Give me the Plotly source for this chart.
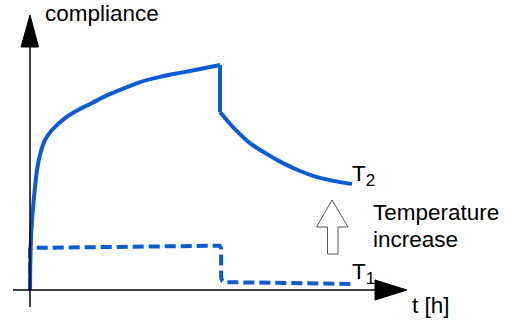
import plotly.graph_objects as go

# ---- data (t in h, compliance in arbitrary units) ----
t_load = [0.0, 0.018, 0.053, 0.132, 0.184, 0.263, 0.395, 0.579, 0.921, 1.263,
          1.632, 2.053, 2.5, 2.895, 3.421, 3.947, 4.474, 5.0]
c_load_T2 = [0.0, 1.91, 3.11, 4.58, 5.33, 6.0, 6.67, 7.11, 7.64, 8.0,
             8.31, 8.67, 8.98, 9.24, 9.47, 9.65, 9.82, 10.0]
t_drop = [5.0, 5.0]
c_drop_T2 = [10.0, 7.91]
t_rec = [5.0, 5.342, 5.789, 6.237, 6.658, 7.105, 7.553, 8.026, 8.474]
c_rec_T2 = [7.91, 7.24, 6.53, 6.04, 5.64, 5.29, 5.02, 4.84, 4.71]

t_T1 = [0.0, 0.0, 0.05, 2.5, 4.9, 4.99, 5.03, 5.03, 5.06, 5.15, 8.47]
c_T1 = [0.0, 1.82, 1.87, 1.93, 2.0, 1.97, 1.85, 0.55, 0.4, 0.35, 0.27]

labels = {"y": "compliance", "x": "t [h]",
          "T2": "T<sub><span style='font-size:17px'>2</span></sub>",
          "T1": "T<sub><span style='font-size:17px'>1</span></sub>",
          "arrow1": "Temperature", "arrow2": "increase"}

# ---- pixel mapping helpers (figure is 511x322, plot area = whole figure) ----
W, H = 511, 322
X0, Y0, KX, KY = 30.0, 290.0, 38.0, 22.5
def tx(px):
    return (px - X0) / KX
def cy(py):
    return (Y0 - py) / KY

blue = "#0a5cd6"
font = "Liberation Sans, Arial, sans-serif"

fig = go.Figure()
fig.add_trace(go.Scatter(x=t_load, y=c_load_T2, mode="lines", line_shape="spline",
                         line=dict(color=blue, width=4, smoothing=0.8), hoverinfo="skip"))
fig.add_trace(go.Scatter(x=t_drop, y=c_drop_T2, mode="lines",
                         line=dict(color=blue, width=4), hoverinfo="skip"))
fig.add_trace(go.Scatter(x=t_rec, y=c_rec_T2, mode="lines", line_shape="spline",
                         line=dict(color=blue, width=4, smoothing=0.8), hoverinfo="skip"))
fig.add_trace(go.Scatter(x=t_T1, y=c_T1, mode="lines",
                         line=dict(color=blue, width=4, dash="11px,5px"), hoverinfo="skip"))

shapes = []
# y axis line + arrow head
shapes.append(dict(type="line", xref="x", yref="y", x0=0, x1=0, y0=cy(307), y1=cy(47),
                   line=dict(color="black", width=1.5)))
shapes.append(dict(type="path", xref="x", yref="y",
                   path=f"M {tx(21)},{cy(47)} L {tx(38.5)},{cy(47)} L {tx(30)},{cy(15)} Z",
                   fillcolor="black", line=dict(color="black", width=1)))
# x axis line + arrow head
shapes.append(dict(type="line", xref="x", yref="y", x0=tx(13), x1=tx(376), y0=0, y1=0,
                   line=dict(color="black", width=1.5)))
shapes.append(dict(type="path", xref="x", yref="y",
                   path=f"M {tx(375)},{cy(280)} L {tx(375)},{cy(300)} L {tx(407)},{cy(290)} Z",
                   fillcolor="black", line=dict(color="black", width=1)))
# hollow arrow
pts = [(332, 200), (348, 227), (338, 227), (338, 254), (327.5, 254), (327.5, 227), (316.5, 227)]
path = "M " + " L ".join(f"{tx(a)},{cy(b)}" for a, b in pts) + " Z"
shapes.append(dict(type="path", xref="x", yref="y", path=path, fillcolor="white",
                   line=dict(color="#555555", width=1)))

def ann(text, px, py, xanchor="left", yanchor="middle", size=22.5):
    return dict(text=text, x=tx(px), y=cy(py), xref="x", yref="y", showarrow=False,
                xanchor=xanchor, yanchor=yanchor, font=dict(family=font, size=size, color="black"))

annotations = [
    ann(labels["y"], 43, 13),
    ann(labels["x"], 410, 305),
    ann(labels["T2"], 350, 175),
    ann(labels["T1"], 350, 273),
    ann(labels["arrow1"], 371, 212),
    ann(labels["arrow2"], 371, 239),
]

fig.update_layout(
    width=W, height=H, autosize=False,
    margin=dict(l=0, r=0, t=0, b=0),
    paper_bgcolor="white", plot_bgcolor="white",
    showlegend=False,
    xaxis=dict(visible=False, range=[tx(0), tx(W)], fixedrange=True),
    yaxis=dict(visible=False, range=[cy(H), cy(0)], fixedrange=True),
    shapes=shapes, annotations=annotations,
)
fig.write_html("out.html", config={"displayModeBar": False, "staticPlot": True},
               post_script="document.body.style.margin='0px';document.body.style.overflow='hidden';")
